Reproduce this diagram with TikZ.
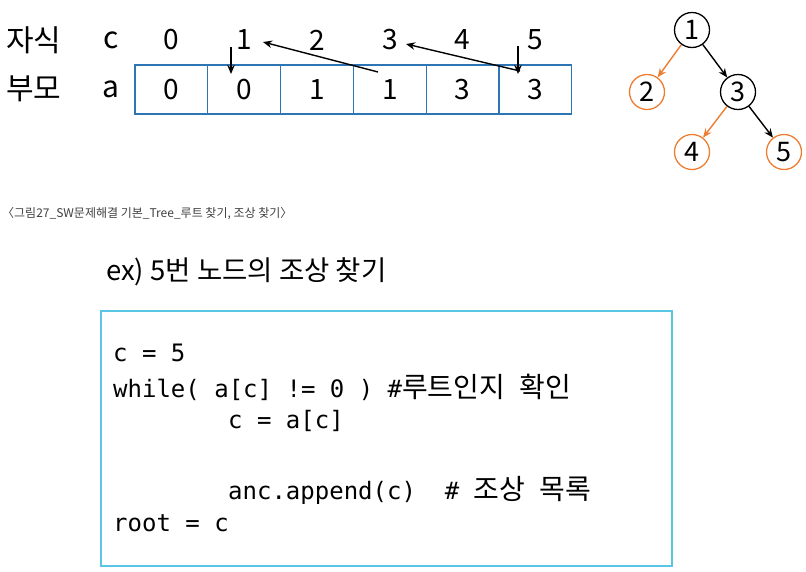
\documentclass[tikz,border=0pt]{standalone}
\usepackage{fontspec}
\setmainfont{Noto Sans CJK KR}
\setmonofont{DejaVu Sans Mono}
\newfontfamily\cjk{Noto Sans CJK KR}
\usetikzlibrary{arrows.meta}
\definecolor{cellblue}{HTML}{2E75B6}
\definecolor{treeorange}{HTML}{ED7D31}
\definecolor{codecyan}{HTML}{5BC5E6}
\definecolor{capgray}{HTML}{404040}
\begin{document}
\begin{tikzpicture}[x=1pt,y=-1pt,
  lbl/.style={inner sep=0pt,font=\fontsize{30}{32}\selectfont},
  num/.style={inner sep=0pt,font=\fontsize{28}{30}\selectfont},
  cell/.style={draw=cellblue,line width=1.2pt,minimum width=72.8pt,minimum height=49pt,inner sep=0pt,font=\fontsize{28}{30}\selectfont},
  arr/.style={line width=1.4pt,-{Stealth[length=9pt,width=7.5pt]}},
  tnode/.style={circle,line width=1.3pt,minimum size=35pt,inner sep=0pt,font=\fontsize{27}{29}\selectfont},
  code/.style={anchor=west,inner sep=0pt,font=\ttfamily\fontsize{24}{26}\selectfont}
]
\useasboundingbox (0,0) rectangle (806,571);
% labels
\node[lbl,anchor=west] (ja) at (6,40) {자식};
\node[lbl,anchor=west] (bu) at (6,89) {부모};
\node[lbl] (cl) at (111,40) {c};
\node[lbl] (al) at (111,89) {a};
% cells and top numbers
\foreach \i/\v in {0/0,1/0,2/1,3/1,4/3,5/3}{
  \node[cell] (cell\i) at ({135+36.4+72.8*\i},89.5) {\v};
  \node[num] (t\i) at ({135+36.4+72.8*\i},40) {\i};
}
% arrows
\coordinate (d1s) at (231,47);
\coordinate (d1e) at (231,74);
\coordinate (d2s) at (518,46);
\coordinate (d2e) at (518,74);
\coordinate (g1s) at (378,72);
\coordinate (g1e) at (263,42);
\coordinate (g2s) at (520,71);
\coordinate (g2e) at (406,44);
\draw[arr] (d1s) -- (d1e);
\draw[arr] (d2s) -- (d2e);
\draw[arr] (g1s) -- (g1e);
\draw[arr] (g2s) -- (g2e);
% tree
\node[tnode,draw=black] (n1) at (692,30) {1};
\node[tnode,draw=treeorange] (n2) at (647,92) {2};
\node[tnode,draw=black] (n3) at (738,92) {3};
\node[tnode,draw=treeorange] (n4) at (692,152) {4};
\node[tnode,draw=treeorange] (n5) at (784,152) {5};
\draw[arr,treeorange] (n1) -- (n2);
\draw[arr] (n1) -- (n3);
\draw[arr,treeorange] (n3) -- (n4);
\draw[arr] (n3) -- (n5);
% caption
\node[anchor=west,inner sep=0pt,text=capgray,font=\fontsize{12}{13}\selectfont] (cap) at (2,214) {〈그림27\_SW문제해결 기본\_Tree\_루트 찾기, 조상 찾기〉};
% heading
\node[anchor=west,inner sep=0pt,font=\fontsize{27.5}{29}\selectfont] (ex) at (106,272) {ex) 5번 노드의 조상 찾기};
% code box
\node[draw=codecyan,line width=1.8pt,minimum width=571pt,minimum height=255pt,inner sep=0pt] (box) at (386.5,438.5) {};
\node[code] (l1) at (113,353) {c = 5};
\node[code] (l2) at (113,387) {while( a[c] != 0 ) \#{\cjk\fontsize{28}{28}\selectfont 루트인지}\ {\cjk\fontsize{28}{28}\selectfont 확인}};
\node[code] (l3) at (228,421) {c = a[c]};
\node[code] (l4) at (228,490) {anc.append(c)\ \ \#\ {\cjk\fontsize{28}{28}\selectfont 조상}\ {\cjk\fontsize{28}{28}\selectfont 목록}};
\node[code] (l5) at (113,523) {root = c};
\end{tikzpicture}
\end{document}
